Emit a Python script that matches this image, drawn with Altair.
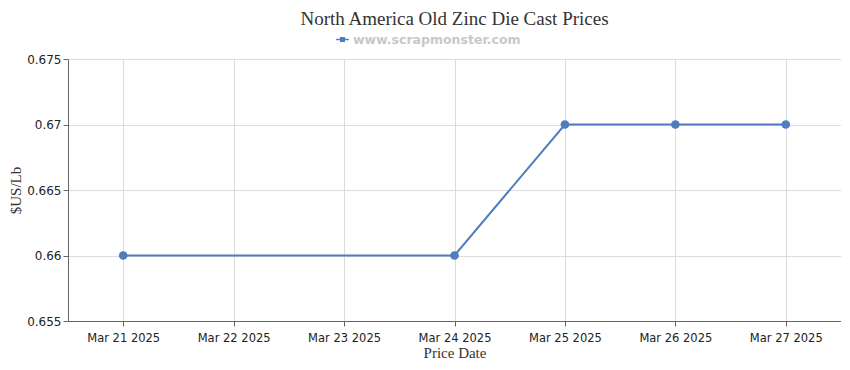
import altair as alt
import pandas as pd

all_dates = ["Mar 21 2025", "Mar 22 2025", "Mar 23 2025", "Mar 24 2025",
             "Mar 25 2025", "Mar 26 2025", "Mar 27 2025"]
dates = ["Mar 21 2025", "Mar 24 2025", "Mar 25 2025", "Mar 26 2025", "Mar 27 2025"]
prices = [0.66, 0.66, 0.67, 0.67, 0.67]
series = "www.scrapmonster.com"

df = pd.DataFrame({"date": dates, "price": prices, "series": [series] * len(dates)})

color = "#4f7dbd"
sym = "M-1,-0.12L1,-0.12L1,0.12L-1,0.12Z M-0.4,-0.4L0.4,-0.4L0.4,0.4L-0.4,0.4Z"

base = alt.Chart(df).encode(
    x=alt.X("date:O", sort=all_dates,
            scale=alt.Scale(type="point", domain=all_dates, padding=0.5),
            axis=alt.Axis(title="Price Date", labelAngle=0, grid=True,
                          gridColor="#dcdcdc", domainColor="#666666", tickColor="#666666",
                          labelFont="DejaVu Sans", labelFontSize=11.5, labelColor="#222222",
                          titleFont="Liberation Serif", titleFontSize=15, titleFontWeight="normal",
                          titleColor="#333333", labelPadding=6, titlePadding=2)),
    y=alt.Y("price:Q", scale=alt.Scale(domain=[0.655, 0.675], nice=False, zero=False),
            axis=alt.Axis(title="$US/Lb", values=[0.655, 0.66, 0.665, 0.67, 0.675],
                          format=".3~f", grid=True, gridColor="#dcdcdc",
                          domainColor="#666666", tickColor="#666666",
                          labelFont="DejaVu Sans", labelFontSize=12, labelColor="#222222",
                          titleFont="Liberation Serif", titleFontSize=15, titleFontWeight="normal",
                          titleColor="#333333", labelPadding=2, titlePadding=3)),
    color=alt.Color("series:N", scale=alt.Scale(domain=[series], range=[color]),
                    legend=alt.Legend(title=None, orient="none", legendX=268, legendY=-26,
                                      symbolType=sym, symbolSize=160, symbolStrokeWidth=0,
                                      labelFont="DejaVu Sans", labelFontSize=12.5, labelLimit=400,
                                      labelFontWeight="bold", labelColor="#c8c8c8")),
)

line = base.mark_line(strokeWidth=2)
pts = base.mark_point(filled=True, size=75, opacity=1)

chart = (line + pts).properties(
    width=773, height=262, padding={"left": 0, "top": 2, "right": 0, "bottom": 0},
    title=alt.TitleParams("North America Old Zinc Die Cast Prices", font="Liberation Serif",
                          fontSize=19, fontWeight="normal", color="#333333", anchor="middle",
                          offset=4),
).configure_view(stroke=None).configure(background="white")

chart.save("out.html", embed_options={"renderer": "svg", "actions": False})
